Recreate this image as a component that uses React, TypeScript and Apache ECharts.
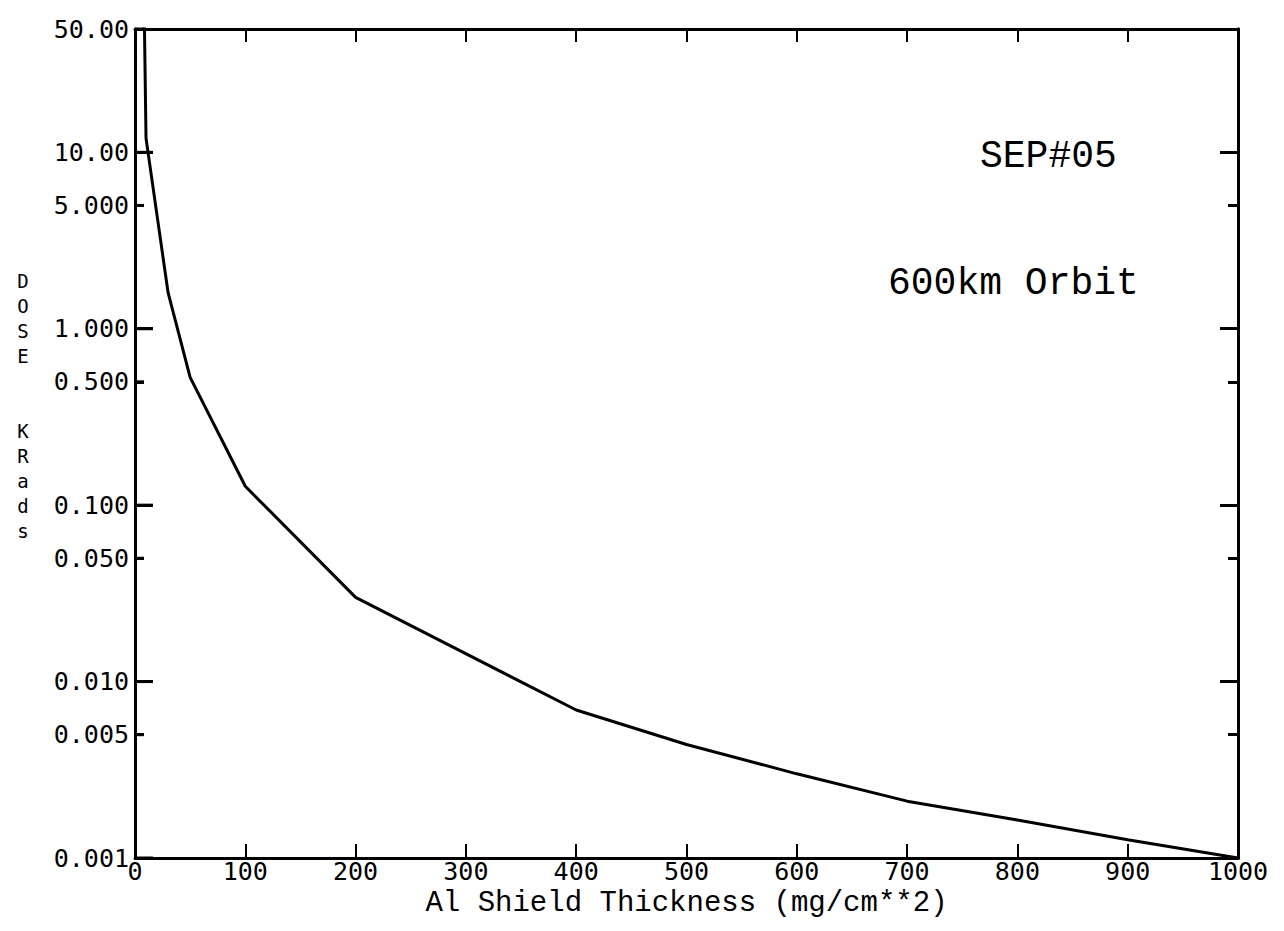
import React, { useEffect, useRef } from "react";
import * as echarts from "echarts";

// Data
const thickness = [0, 10, 30, 50, 100, 200, 400, 500, 600, 700, 800, 900, 1000];
const dose = [300000, 12, 1.6, 0.53, 0.128, 0.03, 0.0069, 0.0044, 0.003, 0.0021, 0.00164, 0.00127, 0.001];
const decadeTicks = [0.001, 0.01, 0.1, 1, 10];
const halfDecadeTicks = [0.005, 0.05, 0.5, 5, 50];
const yLabelValues = [0.001, 0.005, 0.01, 0.05, 0.1, 0.5, 1, 5, 10, 50];
const xTicks = { min: 0, max: 1000, interval: 100 };
const xAxisTitle = "Al Shield Thickness (mg/cm**2)";
const yAxisTitle = "D\nO\nS\nE\n\n\nK\nR\na\nd\ns";
const annotations = ["SEP#05", "600km Orbit"];

const MONO = "'DejaVu Sans Mono', monospace";
const COURIER = "'Liberation Mono', 'Courier New', monospace";

const GRID = { left: 135, top: 29, width: 1103, height: 829 };
const LEFT_LONG = 18;
const LEFT_SHORT = 9;

function fmt(v: number): string {
  return v >= 10 ? v.toFixed(2) : v.toFixed(3);
}

export default function App() {
  const ref = useRef<HTMLDivElement>(null);

  useEffect(() => {
    if (!ref.current) return;
    const chart = echarts.init(ref.current, undefined, { renderer: "svg" });

    const logAxis = (extra: any) => ({
      type: "log",
      logBase: 10,
      min: 0.001,
      max: 50,
      offset: 0,
      splitLine: { show: false },
      minorTick: { show: false },
      ...extra,
    });

    const tickAxis = (gridIndex: number, position: string, ticks: number[], len: number, inside: boolean, showLine: boolean) =>
      logAxis({
        gridIndex,
        position,
        axisLine: { show: showLine, onZero: false, lineStyle: { color: "#000", width: 3 } },
        axisTick: {
          show: true,
          inside,
          length: len,
          customValues: ticks,
          lineStyle: { color: "#000", width: 3 },
        },
        axisLabel: { show: false },
        z: 20,
      });

    const hiddenX = (gridIndex: number) => ({
      type: "value",
      gridIndex,
      min: 0,
      max: 1,
      show: false,
    });

    const textGraphics: any[] = [
      {
        type: "text",
        id: "ytitle",
        x: 23,
        y: 268,
        style: {
          text: yAxisTitle,
          fill: "#000",
          font: `19px ${MONO}`,
          lineHeight: 25,
          textAlign: "center",
          textVerticalAlign: "top",
        },
      },
      {
        type: "text",
        id: "note1",
        x: 980,
        y: 156,
        style: {
          text: annotations[0],
          fill: "#000",
          font: `38px ${COURIER}`,
          textAlign: "left",
          textVerticalAlign: "middle",
        },
      },
      {
        type: "text",
        id: "note2",
        x: 888,
        y: 283,
        style: {
          text: annotations[1],
          fill: "#000",
          font: `38px ${COURIER}`,
          textAlign: "left",
          textVerticalAlign: "middle",
        },
      },
    ];

    chart.setOption({
      animation: false,
      backgroundColor: "#fff",
      grid: [
        { ...GRID, containLabel: false },
        // grids shifted right so that their outward left ticks point into the main plot
        { left: GRID.left + LEFT_LONG, top: GRID.top, width: GRID.width - LEFT_LONG, height: GRID.height, containLabel: false },
        { left: GRID.left + LEFT_SHORT, top: GRID.top, width: GRID.width - LEFT_SHORT, height: GRID.height, containLabel: false },
      ],
      xAxis: [
        {
          type: "value",
          gridIndex: 0,
          min: xTicks.min,
          max: xTicks.max,
          interval: xTicks.interval,
          position: "bottom",
          name: xAxisTitle,
          nameLocation: "middle",
          nameGap: 16,
          nameTextStyle: {
            color: "#000",
            fontFamily: COURIER,
            fontSize: 29,
            verticalAlign: "top",
          },
          axisLine: { show: true, onZero: false, lineStyle: { color: "#000", width: 3 } },
          axisTick: { show: true, inside: true, length: 14, lineStyle: { color: "#000", width: 2 } },
          axisLabel: {
            color: "#000",
            fontFamily: MONO,
            fontSize: 25,
            margin: 1,
            formatter: (v: number) => String(v),
          },
          splitLine: { show: false },
        },
        {
          type: "value",
          gridIndex: 0,
          min: xTicks.min,
          max: xTicks.max,
          interval: xTicks.interval,
          position: "top",
          axisLine: { show: true, onZero: false, lineStyle: { color: "#000", width: 3 } },
          axisTick: { show: true, inside: true, length: 13, lineStyle: { color: "#000", width: 2 } },
          axisLabel: { show: false },
          splitLine: { show: false },
        },
        hiddenX(1),
        hiddenX(2),
      ],
      yAxis: [
        logAxis({
          gridIndex: 0,
          position: "left",
          axisLine: { show: true, onZero: false, lineStyle: { color: "#000", width: 3 } },
          axisTick: { show: false },
          axisLabel: {
            show: true,
            customValues: yLabelValues,
            formatter: (v: number) => fmt(v),
            color: "#000",
            fontFamily: MONO,
            fontSize: 25,
            margin: 6,
          },
        }),
        tickAxis(0, "right", decadeTicks, 18, true, true),
        tickAxis(0, "right", halfDecadeTicks, 10, true, true),
        tickAxis(1, "left", decadeTicks, LEFT_LONG, false, false),
        tickAxis(2, "left", halfDecadeTicks, LEFT_SHORT, false, false),
      ],
      graphic: textGraphics,
      series: [
        {
          type: "line",
          xAxisIndex: 0,
          yAxisIndex: 0,
          data: thickness.map((t, i) => [t, dose[i]]),
          showSymbol: false,
          symbol: "none",
          clip: true,
          lineStyle: { color: "#000", width: 3 },
        },
      ],
    });

    // Also draw the left inward ticks as graphic lines on a top layer, positioned with the chart's scales
    try {
      const x0 = chart.convertToPixel({ xAxisIndex: 0 }, xTicks.min) as any;
      const tickLines: any[] = [];
      const addTicks = (ticks: number[], len: number, prefix: string) => {
        ticks.forEach((v, i) => {
          const y = chart.convertToPixel({ yAxisIndex: 0 }, v) as any;
          if (typeof y !== "number" || !isFinite(y)) return;
          tickLines.push({
            type: "line",
            id: `${prefix}${i}`,
            silent: true,
            zlevel: 1,
            z: 100,
            shape: { x1: x0, y1: y, x2: x0 + len, y2: y },
            style: { stroke: "#000", lineWidth: 3 },
          });
        });
      };
      if (typeof x0 === "number" && isFinite(x0)) {
        addTicks(decadeTicks, LEFT_LONG, "ld");
        addTicks(halfDecadeTicks, LEFT_SHORT, "lh");
        if (tickLines.length) chart.setOption({ graphic: [...textGraphics, ...tickLines] });
      }
    } catch (e) {
      // ignore; axis-based ticks above remain
    }

    return () => chart.dispose();
  }, []);

  return (
    <div
      ref={ref}
      style={{ position: "fixed", left: 0, top: 0, width: 1284, height: 931 }}
    />
  );
}
